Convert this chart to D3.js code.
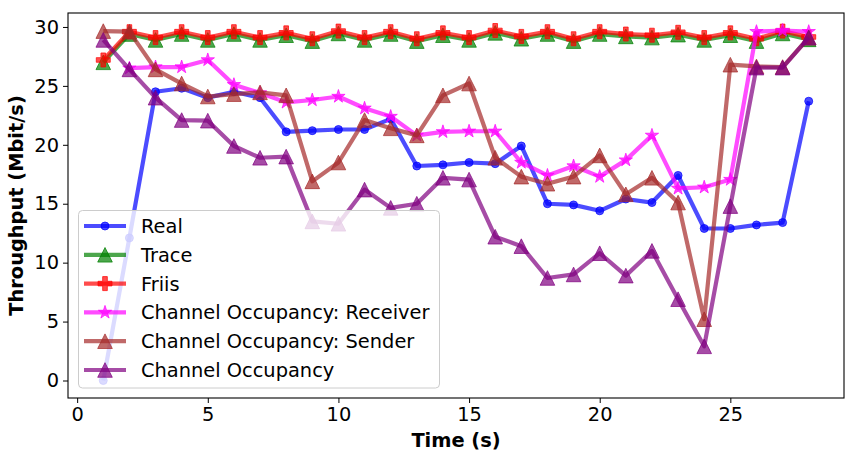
<!DOCTYPE html>
<html>
<head>
<meta charset="utf-8">
<script src="https://cdn.jsdelivr.net/npm/d3@7"></script>
<style>
  body { margin: 0; background: #fff; }
  svg text { font-family: "DejaVu Sans", sans-serif; }
</style>
</head>
<body>
<div class="chart"></div>
<script>
// values
const times = [1,2,3,4,5,6,7,8,9,10,11,12,13,14,15,16,17,18,19,20,21,22,23,24,25,26,27,28];
const real = [0, 12.1, 24.5, 24.8, 24.0, 24.5, 24.0, 21.1, 21.2, 21.3, 21.3, 22.2, 18.2, 18.3, 18.5, 18.4, 19.9, 15.0, 14.9, 14.4, 15.4, 15.1, 17.4, 12.9, 12.9, 13.2, 13.4, 23.7];
const trace = [27.0, 29.4, 28.9, 29.4, 28.9, 29.4, 28.9, 29.3, 28.8, 29.45, 28.9, 29.4, 28.8, 29.3, 28.9, 29.5, 29.0, 29.4, 28.8, 29.4, 29.2, 29.1, 29.35, 28.9, 29.3, 28.8, 29.45, 28.95];
const friis = [27.2, 29.6, 29.1, 29.6, 29.1, 29.6, 29.1, 29.5, 29.0, 29.65, 29.1, 29.6, 29.0, 29.5, 29.1, 29.7, 29.2, 29.6, 29.0, 29.6, 29.4, 29.3, 29.55, 29.1, 29.5, 29.0, 29.65, 29.15];
const receiver = [null, 26.5, 26.6, 26.6, 27.2, 25.1, 24.4, 23.6, 23.8, 24.1, 23.1, 22.4, 20.8, 21.1, 21.15, 21.15, 18.5, 17.4, 18.2, 17.3, 18.7, 20.8, 16.3, 16.4, 17.05, 29.6, 29.7, 29.6];
const sender = [29.65, 29.6, 26.4, 25.2, 24.1, 24.3, 24.45, 24.2, 16.9, 18.5, 22.1, 21.4, 20.8, 24.2, 25.2, 18.9, 17.3, 16.7, 17.3, 19.1, 15.8, 17.2, 15.1, 5.2, 26.8, 26.65, 26.6, 29.1];
const occupancy = [28.9, 26.4, 24.0, 22.1, 22.05, 19.9, 18.9, 19.0, 13.5, 13.3, 16.2, 14.65, 15.0, 17.2, 17.05, 12.2, 11.4, 8.7, 9.0, 10.8, 8.9, 11.0, 6.9, 2.9, 14.8, 26.55, 26.55, 29.1];

const xTicks = [0, 5, 10, 15, 20, 25];
const yTicks = [0, 5, 10, 15, 20, 25, 30];

const seriesNames = ['Real', 'Trace', 'Friis', 'Channel Occupancy: Receiver', 'Channel Occupancy: Sender', 'Channel Occupancy'];
const seriesValues = [real, trace, friis, receiver, sender, occupancy];
const seriesColors = ['#0000ff', '#008000', '#ff0000', '#ff00ff', '#a52a2a', '#800080'];
const seriesMarkers = ['circle', 'triangle', 'plus', 'star', 'triangle', 'triangle'];

const width = 856, height = 453;
const margin = {top: 13, right: 12, bottom: 55, left: 68};
const fontSize = 19.4;

const svg = d3.select('.chart').append('svg')
  .attr('width', width)
  .attr('height', height);

// same padding as matplotlib (5% each side)
const xScale = d3.scaleLinear()
  .domain([1 - 0.05 * 27, 28 + 0.05 * 27])
  .range([margin.left, width - margin.right]);
const yScale = d3.scaleLinear()
  .domain([0 - 0.05 * 29.7, 29.7 + 0.05 * 29.7])
  .range([height - margin.bottom, margin.top]);

// marker shapes
function markerPath(kind){
  if (kind === 'circle') return d3.symbol(d3.symbolCircle, Math.PI * 16)();
  if (kind === 'triangle') return 'M0,-7.3L-7.3,7.3L7.3,7.3Z';
  if (kind === 'plus') {
    const a = 7, b = 7 / 3;
    return `M${-b},${-a}H${b}V${-b}H${a}V${b}H${b}V${a}H${-b}V${b}H${-a}V${-b}H${-b}Z`;
  }
  if (kind === 'star') return d3.symbol(d3.symbolStar, 49 / 0.8908130915)();
}

const line = d3.line()
  .defined(d => d.v !== null)
  .x(d => xScale(d.t))
  .y(d => yScale(d.v));

seriesValues.forEach((vals, i) => {
  const data = times.map((t, j) => ({t: t, v: vals[j]}));
  const g = svg.append('g').attr('class', 'series');
  g.append('path')
    .datum(data)
    .attr('d', line)
    .attr('fill', 'none')
    .attr('stroke', seriesColors[i])
    .attr('stroke-opacity', 0.7)
    .attr('stroke-width', 4.2)
    .attr('stroke-linejoin', 'round');
  g.selectAll('.mark')
    .data(data.filter(d => d.v !== null))
    .enter()
    .append('path')
    .attr('class', 'mark')
    .attr('transform', d => `translate(${xScale(d.t)},${yScale(d.v)})`)
    .attr('d', markerPath(seriesMarkers[i]))
    .attr('fill', seriesColors[i])
    .attr('fill-opacity', 0.7)
    .attr('stroke', seriesColors[i])
    .attr('stroke-opacity', 0.7)
    .attr('stroke-width', 1);
});

// axes
const xAxis = d3.axisBottom(xScale).tickValues(xTicks).tickSizeInner(5).tickSizeOuter(0).tickPadding(4);
const yAxis = d3.axisLeft(yScale).tickValues(yTicks).tickSizeInner(5).tickSizeOuter(0).tickPadding(4);

const xAxisDraw = svg.append('g')
  .attr('transform', `translate(0,${height - margin.bottom})`)
  .call(xAxis);
const yAxisDraw = svg.append('g')
  .attr('transform', `translate(${margin.left},0)`)
  .call(yAxis);

[xAxisDraw, yAxisDraw].forEach(ax => {
  ax.select('.domain').remove();
  ax.selectAll('text')
    .style('font-family', '"DejaVu Sans", sans-serif')
    .style('font-size', fontSize + 'px')
    .attr('fill', '#000');
  ax.selectAll('line').attr('stroke', '#000').attr('stroke-width', 1);
});

// frame
svg.append('rect')
  .attr('x', margin.left)
  .attr('y', margin.top)
  .attr('width', width - margin.left - margin.right)
  .attr('height', height - margin.top - margin.bottom)
  .attr('fill', 'none')
  .attr('stroke', '#000')
  .attr('stroke-width', 1.1);

// axis labels
svg.append('text')
  .attr('x', (margin.left + width - margin.right) / 2)
  .attr('y', 447)
  .attr('text-anchor', 'middle')
  .style('font-size', fontSize + 'px')
  .style('font-weight', 'bold')
  .text('Time (s)');

svg.append('text')
  .attr('transform', `translate(23,${(margin.top + height - margin.bottom) / 2}) rotate(-90)`)
  .attr('text-anchor', 'middle')
  .style('font-size', fontSize + 'px')
  .style('font-weight', 'bold')
  .text('Throughput (Mbit/s)');

// legend
const legend = svg.append('g').attr('class', 'legend');
legend.append('rect')
  .attr('x', 78.5)
  .attr('y', 210.5)
  .attr('width', 361)
  .attr('height', 177.5)
  .attr('rx', 4)
  .attr('fill', '#fff')
  .attr('fill-opacity', 0.8)
  .attr('stroke', '#cccccc')
  .attr('stroke-width', 1);

seriesNames.forEach((name, i) => {
  const y = 226 + i * 28.8;
  const row = legend.append('g');
  row.append('line')
    .attr('x1', 84).attr('x2', 126)
    .attr('y1', y).attr('y2', y)
    .attr('stroke', seriesColors[i])
    .attr('stroke-opacity', 0.7)
    .attr('stroke-width', 4.2);
  row.append('path')
    .attr('transform', `translate(105,${y})`)
    .attr('d', markerPath(seriesMarkers[i]))
    .attr('fill', seriesColors[i])
    .attr('fill-opacity', 0.7)
    .attr('stroke', seriesColors[i])
    .attr('stroke-opacity', 0.7)
    .attr('stroke-width', 1);
  row.append('text')
    .attr('x', 141)
    .attr('y', y)
    .attr('dy', '0.36em')
    .style('font-size', fontSize + 'px')
    .text(name);
});
</script>
</body>
</html>
